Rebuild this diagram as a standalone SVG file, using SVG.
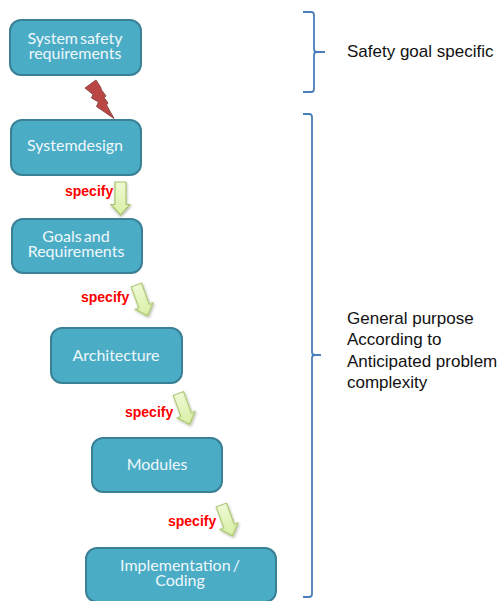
<svg xmlns="http://www.w3.org/2000/svg" width="498" height="601" viewBox="0 0 498 601">
<style>
.box{fill:#4bacc6;stroke:#3a8096;stroke-width:2}
.t{font-family:Lato,"Open Sans",sans-serif;font-size:16px;fill:#eef8fb;text-anchor:middle;word-spacing:-2px}
.s{font-family:"Liberation Sans",Arial,sans-serif;font-size:14px;font-weight:bold;fill:#ff0000}
.l{font-family:"Liberation Sans",Arial,sans-serif;font-size:17px;fill:#111}
.br{fill:none;stroke:#4a7ebb;stroke-width:1.8}
.ar{fill:url(#g);stroke:#a9c46c;stroke-width:1.2;filter:url(#sh)}
</style>
<defs>
<path id="dn" d="M-5.500,-16.500H5.500V6H9.500L0,16.500L-9.500,6H-5.500Z"/>
<linearGradient id="g" x1="0" y1="0" x2="0" y2="1"><stop offset="0" stop-color="#eef9d4"/><stop offset="1" stop-color="#d8f0a4"/></linearGradient>
<filter id="sh" x="-30%" y="-30%" width="160%" height="160%"><feDropShadow dx="0.500" dy="1.500" stdDeviation="1" flood-color="#000" flood-opacity="0.300"/></filter>
</defs>
<g id="connectors">
<path d="M96,80L85,88L93,94.500L91.500,98L98.500,102L96.500,106.500L114,118.500L106.500,105L108,103L104,97.500L106,96L101.500,90L100.500,87Z" fill="#bb4744" stroke="#8c4a48" stroke-width="1"/>
<use href="#dn" class="ar" transform="translate(120.500,198.500)"/>
<use href="#dn" class="ar" transform="translate(142,300.500) rotate(-20)"/>
<use href="#dn" class="ar" transform="translate(184,409) rotate(-20)"/>
<use href="#dn" class="ar" transform="translate(227,520.500) rotate(-20)"/>
<path class="br" d="M303,12H311Q314,12 314,15V49Q314,52 317,52H325M317,52Q314,52 314,55V89Q314,92 311,92H303"/>
<path class="br" d="M303,114H309Q312,114 312,117V352Q312,355 315,355H321M315,355Q312,355 312,358V594Q312,597 309,597H303"/>
</g>
<g id="n1"><rect class="box" x="10" y="20" width="131" height="55" rx="11"/><text class="t" x="75" y="44">System safety</text><text class="t" x="75" y="59">requirements</text></g>
<g id="n2"><rect class="box" x="11" y="120" width="130" height="55" rx="11"/><text class="t" x="75" y="151">Systemdesign</text></g>
<g id="n3"><rect class="box" x="12" y="219" width="130" height="54" rx="11"/><text class="t" x="76" y="242">Goals and</text><text class="t" x="76" y="257">Requirements</text></g>
<g id="n4"><rect class="box" x="51" y="328" width="131" height="55" rx="11"/><text class="t" x="116" y="361">Architecture</text></g>
<g id="n5"><rect class="box" x="92" y="438" width="130" height="54" rx="11"/><text class="t" x="157" y="470">Modules</text></g>
<g id="n6"><rect class="box" x="86" y="548" width="190" height="54" rx="11"/><text class="t" x="180" y="571">Implementation /</text><text class="t" x="180" y="586">Coding</text></g>
<g id="labels">
<text class="s" x="65" y="196">specify</text>
<text class="s" x="81" y="302">specify</text>
<text class="s" x="125" y="417">specify</text>
<text class="s" x="168" y="526">specify</text>
<text class="l" x="347" y="57">Safety goal specific</text>
<text class="l" x="347" y="324">General purpose</text>
<text class="l" x="347" y="345">According to</text>
<text class="l" x="347" y="367">Anticipated problem</text>
<text class="l" x="347" y="388">complexity</text>
</g>
</svg>
